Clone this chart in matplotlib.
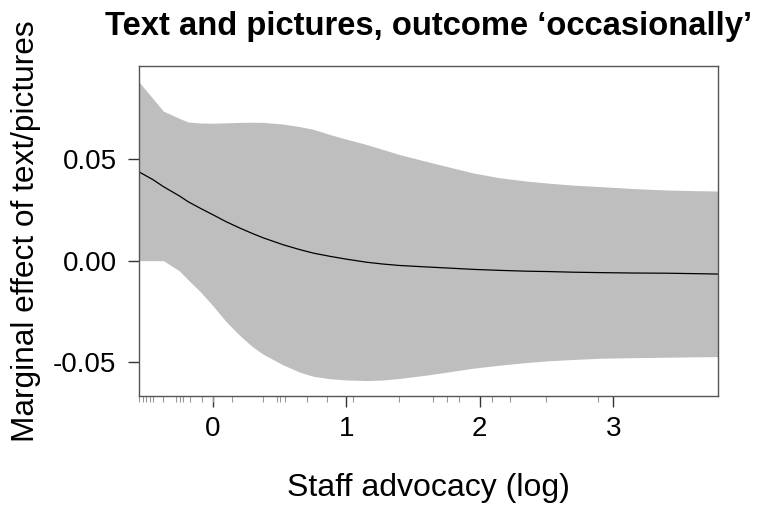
import matplotlib
matplotlib.use("Agg")
import matplotlib.pyplot as plt
from matplotlib.ticker import FixedLocator

plt.rcParams['font.family'] = ['Liberation Sans', 'DejaVu Sans']

# marginal effect curve
staff_log = [-0.554, -0.45, -0.37, -0.25, -0.183, -0.09, 0.005, 0.1, 0.205, 0.3,
             0.38, 0.529, 0.654, 0.754, 0.88, 1.004, 1.154, 1.278, 1.403, 1.6,
             1.778, 1.95, 2.152, 2.35, 2.527, 2.7, 2.901, 3.15, 3.40, 3.6, 3.785]
effect = [0.0438, 0.0400, 0.0365, 0.0319, 0.0290, 0.0257, 0.0225, 0.0192, 0.0160, 0.0133,
          0.0112, 0.0078, 0.0054, 0.0037, 0.0021, 0.0007, -0.0008, -0.0017, -0.0024, -0.0031,
          -0.0037, -0.0043, -0.0048, -0.0052, -0.0054, -0.0057, -0.0059, -0.0061, -0.0062, -0.0064, -0.0066]
upper = [0.0882, 0.0800, 0.0737, 0.0701, 0.0683, 0.0678, 0.0677, 0.0679, 0.0681, 0.0682,
         0.0681, 0.0673, 0.0660, 0.0647, 0.0621, 0.0598, 0.0572, 0.0547, 0.0522, 0.0489,
         0.0460, 0.0432, 0.0408, 0.0392, 0.0381, 0.0372, 0.0365, 0.0355, 0.0348, 0.0345, 0.0343]
lower = [0.0, 0.0, 0.0, -0.0050, -0.0095, -0.0155, -0.0225, -0.0300, -0.0370, -0.0425,
         -0.0462, -0.0514, -0.0550, -0.0570, -0.0582, -0.0588, -0.0591, -0.0588, -0.0580, -0.0564,
         -0.0547, -0.0530, -0.0515, -0.0502, -0.0493, -0.0487, -0.0481, -0.0478, -0.0476, -0.0474, -0.0473]

# observed values (rug)
rug = [-0.550, -0.524, -0.500, -0.470, -0.445, -0.370, -0.275, -0.245, -0.220, -0.170,
       -0.082, 0.005, 0.142, 0.379, 0.479, 0.504, 0.542, 0.704, 0.854, 1.053, 1.395,
       1.652, 1.753, 1.845, 2.090, 2.227, 2.495, 2.888]

xticks = [0, 1, 2, 3]
yticks = [-0.05, 0.0, 0.05]
ytick_labels = ['-0.05', '0.00', '0.05']

fig = plt.figure(figsize=(7.69, 5.18), dpi=100)
ax = fig.add_axes([0.1804, 0.2355, 0.7533, 0.6371])

ax.fill_between(staff_log, lower, upper, color='#bebebe', lw=0)
ax.plot(staff_log, effect, color='black', lw=0.9)

ax.set_xlim(-0.554, 3.785)
ax.set_ylim(-0.0667, 0.0959)

ax.set_xticks(xticks)
ax.set_xticklabels([str(t) for t in xticks])
ax.xaxis.set_minor_locator(FixedLocator(rug))
ax.set_yticks(yticks)
ax.set_yticklabels(ytick_labels)

ax.tick_params(axis='both', which='major', direction='out', length=8, width=1,
               color='#333333', labelsize=20)
ax.tick_params(axis='x', which='major', pad=6.5)
ax.tick_params(axis='y', which='major', pad=8)
ax.tick_params(axis='x', which='minor', direction='out', length=4, width=0.8,
               color='#999999')

for s in ax.spines.values():
    s.set_color('#555555')
    s.set_linewidth(1)

ax.set_title('Text and pictures, outcome \u2018occasionally\u2019', fontsize=23.6,
             fontweight='bold', pad=22)
ax.set_xlabel('Staff advocacy (log)', fontsize=23, labelpad=22)
ax.set_ylabel('Marginal effect of text/pictures', fontsize=22.8, labelpad=9)

fig.savefig('out.png', dpi=100)
